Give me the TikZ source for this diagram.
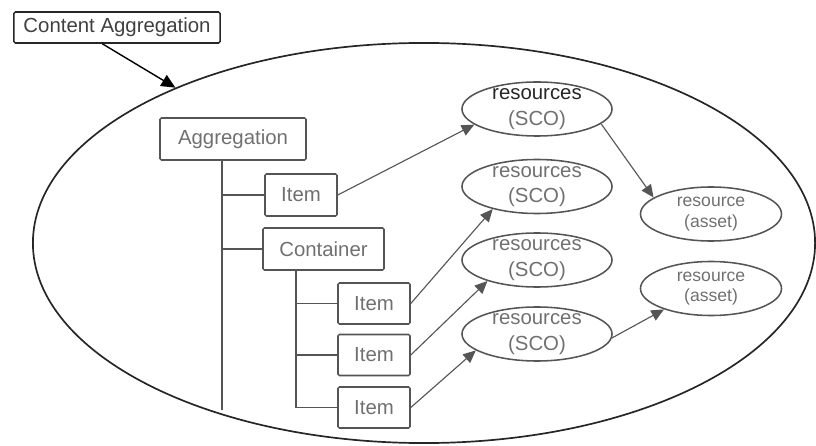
\documentclass[tikz,border=0pt]{standalone}
\usepackage{fontspec}
\setmainfont{Liberation Sans}
\usetikzlibrary{shapes.geometric,arrows.meta}
\definecolor{boxline}{HTML}{555555}
\definecolor{boxtext}{HTML}{707070}

\begin{document}
\begin{tikzpicture}[x=0.025cm,y=-0.025cm,
	box/.style={draw=boxline, line width=1.1pt, rounded corners=1pt, text=boxtext, font=\fontsize{14.5}{17}\selectfont, minimum height=1.05cm, inner sep=0pt},
	res/.style={draw=boxline, line width=1.1pt, ellipse, text=boxtext, align=center, font=\fontsize{14.5}{18}\selectfont, minimum width=3.75cm, minimum height=1.35cm, inner xsep=0pt, inner ysep=-10pt},
	asset/.style={res, font=\fontsize{12.5}{14.5}\selectfont, minimum width=3.525cm},
	link/.style={draw=boxline, line width=0.8pt, -{Triangle[length=9pt,width=8pt]}},
	tree/.style={draw=boxline, line width=1.2pt}]% {{{ content aggregation
	\useasboundingbox (0,0) rectangle (816,446);

	\node[draw=black!85, line width=1.2pt, ellipse, minimum width=19.55cm, minimum height=10cm, inner sep=0pt] (pkg) at (424,243) {};
	\node[box, draw=black!85, text=black!75, minimum width=5.15cm, minimum height=0.775cm] (ca) at (117,27.5) {Content Aggregation};
	\draw[line width=1pt, -{Triangle[length=10pt,width=9pt]}] (ca.228) -- (pkg.148.7);

	% tree
	\node[box, minimum width=3.65cm] (aggr) at (233,139) {Aggregation};
	\node[box, minimum width=1.8cm] (it) at (301,195) {Item};
	\node[box, minimum width=3.025cm] (cont) at (323.5,249) {Container};
	\foreach \n/\y in {a/303.5, b/355, c/407.5}
		\node[box, minimum width=1.8cm, minimum height=1.025cm] (it\n) at (374,\y) {Item};

	\coordinate (trunk) at (222,410);
	\coordinate (ctrunk) at (296,407.5);
	\draw[tree] (aggr.south -| trunk) -- (trunk);
	\draw[tree] (it.west) -- (it.west -| trunk);
	\draw[tree] (cont.west) -- (cont.west -| trunk);
	\draw[tree] (cont.south -| ctrunk) -- (ctrunk) -- (itc.west);
	\foreach \n in {a,b}
		\draw[tree] (it\n.west) -- (it\n.west -| ctrunk);

	% resources
	\node[res] (r1) at (537,109) {\textcolor{black!85}{resources}\\(SCO)};
	\node[res] (r2) at (537,186.5) {resources\\(SCO)};
	\node[res] (r3) at (537,260) {resources\\(SCO)};
	\node[res] (r4) at (537,334) {resources\\(SCO)};
	\node[asset] (a1) at (711,214) {resource\\(asset)};
	\node[asset] (a2) at (711,288.5) {resource\\(asset)};

	\draw[link] (it.east) -- (r1.194);
	\draw[link] (ita.east) -- (r2.207);
	\draw[link] (itb.east) -- (r3.203);
	\draw[link] (itc.east) -- (r4.195);
	\draw[link] (r1.347) -- (a1.164);
	\draw[link] (r4.357) -- (a2.204);
\end{tikzpicture}% }}}
\end{document}
